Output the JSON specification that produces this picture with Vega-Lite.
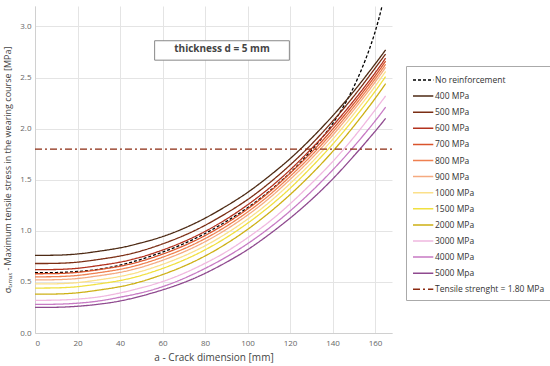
{
  "$schema": "https://vega.github.io/schema/vega-lite/v6.json",
  "autosize": {"type": "none"},
  "padding": {"left": 35, "top": 6, "right": 158, "bottom": 33},
  "width": 357,
  "height": 327,
  "background": "white",
  "config": {
    "font": "Open Sans",
    "view": {"stroke": null},
    "axis": {"gridColor": "#e4e4e4", "domainColor": "#d0d0d0", "ticks": false, "labelColor": "#666", "labelFontSize": 8, "titleColor": "#444", "titleFontWeight": "normal"},
    "legend": {
      "orient": "none", "legendX": 371, "legendY": 60, "fillColor": "white", "strokeColor": "#aaa", "padding": 6,
      "labelFontSize": 8.5, "labelColor": "#333", "symbolType": "M-1,0H1.9", "symbolSize": 196, "symbolStrokeWidth": 1.5,
      "rowPadding": 3.1, "labelOffset": 7, "title": null, "labelLimit": 200
    }
  },
  "data": {"values": [
    {"s":"No reinforcement","a":0,"v":0.59},{"s":"No reinforcement","a":10,"v":0.59},{"s":"No reinforcement","a":20,"v":0.6},{"s":"No reinforcement","a":30,"v":0.62},{"s":"No reinforcement","a":40,"v":0.66},{"s":"No reinforcement","a":50,"v":0.72},{"s":"No reinforcement","a":60,"v":0.79},{"s":"No reinforcement","a":70,"v":0.87},{"s":"No reinforcement","a":80,"v":0.97},{"s":"No reinforcement","a":90,"v":1.09},{"s":"No reinforcement","a":100,"v":1.22},{"s":"No reinforcement","a":110,"v":1.38},{"s":"No reinforcement","a":120,"v":1.56},{"s":"No reinforcement","a":130,"v":1.78},{"s":"No reinforcement","a":140,"v":2.03},{"s":"No reinforcement","a":150,"v":2.38},{"s":"No reinforcement","a":160,"v":2.9},{"s":"No reinforcement","a":165,"v":3.35},
    {"s":"400 MPa","a":0,"v":0.76},{"s":"400 MPa","a":10,"v":0.76},{"s":"400 MPa","a":20,"v":0.77},{"s":"400 MPa","a":30,"v":0.8},{"s":"400 MPa","a":40,"v":0.83},{"s":"400 MPa","a":50,"v":0.88},{"s":"400 MPa","a":60,"v":0.94},{"s":"400 MPa","a":70,"v":1.02},{"s":"400 MPa","a":80,"v":1.12},{"s":"400 MPa","a":90,"v":1.24},{"s":"400 MPa","a":100,"v":1.37},{"s":"400 MPa","a":110,"v":1.53},{"s":"400 MPa","a":120,"v":1.7},{"s":"400 MPa","a":130,"v":1.9},{"s":"400 MPa","a":140,"v":2.12},{"s":"400 MPa","a":150,"v":2.36},{"s":"400 MPa","a":160,"v":2.63},{"s":"400 MPa","a":165,"v":2.77},
    {"s":"500 MPa","a":0,"v":0.68},{"s":"500 MPa","a":10,"v":0.68},{"s":"500 MPa","a":20,"v":0.69},{"s":"500 MPa","a":30,"v":0.72},{"s":"500 MPa","a":40,"v":0.75},{"s":"500 MPa","a":50,"v":0.8},{"s":"500 MPa","a":60,"v":0.87},{"s":"500 MPa","a":70,"v":0.95},{"s":"500 MPa","a":80,"v":1.05},{"s":"500 MPa","a":90,"v":1.17},{"s":"500 MPa","a":100,"v":1.3},{"s":"500 MPa","a":110,"v":1.46},{"s":"500 MPa","a":120,"v":1.64},{"s":"500 MPa","a":130,"v":1.84},{"s":"500 MPa","a":140,"v":2.07},{"s":"500 MPa","a":150,"v":2.31},{"s":"500 MPa","a":160,"v":2.59},{"s":"500 MPa","a":165,"v":2.73},
    {"s":"600 MPa","a":0,"v":0.62},{"s":"600 MPa","a":10,"v":0.62},{"s":"600 MPa","a":20,"v":0.63},{"s":"600 MPa","a":30,"v":0.66},{"s":"600 MPa","a":40,"v":0.69},{"s":"600 MPa","a":50,"v":0.74},{"s":"600 MPa","a":60,"v":0.81},{"s":"600 MPa","a":70,"v":0.89},{"s":"600 MPa","a":80,"v":0.99},{"s":"600 MPa","a":90,"v":1.11},{"s":"600 MPa","a":100,"v":1.25},{"s":"600 MPa","a":110,"v":1.41},{"s":"600 MPa","a":120,"v":1.59},{"s":"600 MPa","a":130,"v":1.8},{"s":"600 MPa","a":140,"v":2.02},{"s":"600 MPa","a":150,"v":2.27},{"s":"600 MPa","a":160,"v":2.54},{"s":"600 MPa","a":165,"v":2.69},
    {"s":"700 MPa","a":0,"v":0.58},{"s":"700 MPa","a":10,"v":0.58},{"s":"700 MPa","a":20,"v":0.59},{"s":"700 MPa","a":30,"v":0.62},{"s":"700 MPa","a":40,"v":0.65},{"s":"700 MPa","a":50,"v":0.7},{"s":"700 MPa","a":60,"v":0.77},{"s":"700 MPa","a":70,"v":0.85},{"s":"700 MPa","a":80,"v":0.95},{"s":"700 MPa","a":90,"v":1.07},{"s":"700 MPa","a":100,"v":1.21},{"s":"700 MPa","a":110,"v":1.37},{"s":"700 MPa","a":120,"v":1.56},{"s":"700 MPa","a":130,"v":1.76},{"s":"700 MPa","a":140,"v":1.99},{"s":"700 MPa","a":150,"v":2.24},{"s":"700 MPa","a":160,"v":2.51},{"s":"700 MPa","a":165,"v":2.66},
    {"s":"800 MPa","a":0,"v":0.55},{"s":"800 MPa","a":10,"v":0.55},{"s":"800 MPa","a":20,"v":0.56},{"s":"800 MPa","a":30,"v":0.59},{"s":"800 MPa","a":40,"v":0.62},{"s":"800 MPa","a":50,"v":0.67},{"s":"800 MPa","a":60,"v":0.74},{"s":"800 MPa","a":70,"v":0.82},{"s":"800 MPa","a":80,"v":0.92},{"s":"800 MPa","a":90,"v":1.04},{"s":"800 MPa","a":100,"v":1.18},{"s":"800 MPa","a":110,"v":1.34},{"s":"800 MPa","a":120,"v":1.53},{"s":"800 MPa","a":130,"v":1.73},{"s":"800 MPa","a":140,"v":1.96},{"s":"800 MPa","a":150,"v":2.21},{"s":"800 MPa","a":160,"v":2.48},{"s":"800 MPa","a":165,"v":2.63},
    {"s":"900 MPa","a":0,"v":0.52},{"s":"900 MPa","a":10,"v":0.52},{"s":"900 MPa","a":20,"v":0.53},{"s":"900 MPa","a":30,"v":0.56},{"s":"900 MPa","a":40,"v":0.59},{"s":"900 MPa","a":50,"v":0.64},{"s":"900 MPa","a":60,"v":0.71},{"s":"900 MPa","a":70,"v":0.79},{"s":"900 MPa","a":80,"v":0.89},{"s":"900 MPa","a":90,"v":1.01},{"s":"900 MPa","a":100,"v":1.15},{"s":"900 MPa","a":110,"v":1.31},{"s":"900 MPa","a":120,"v":1.5},{"s":"900 MPa","a":130,"v":1.7},{"s":"900 MPa","a":140,"v":1.93},{"s":"900 MPa","a":150,"v":2.18},{"s":"900 MPa","a":160,"v":2.45},{"s":"900 MPa","a":165,"v":2.6},
    {"s":"1000 MPa","a":0,"v":0.48},{"s":"1000 MPa","a":10,"v":0.48},{"s":"1000 MPa","a":20,"v":0.49},{"s":"1000 MPa","a":30,"v":0.52},{"s":"1000 MPa","a":40,"v":0.55},{"s":"1000 MPa","a":50,"v":0.6},{"s":"1000 MPa","a":60,"v":0.67},{"s":"1000 MPa","a":70,"v":0.75},{"s":"1000 MPa","a":80,"v":0.85},{"s":"1000 MPa","a":90,"v":0.97},{"s":"1000 MPa","a":100,"v":1.11},{"s":"1000 MPa","a":110,"v":1.27},{"s":"1000 MPa","a":120,"v":1.46},{"s":"1000 MPa","a":130,"v":1.66},{"s":"1000 MPa","a":140,"v":1.89},{"s":"1000 MPa","a":150,"v":2.14},{"s":"1000 MPa","a":160,"v":2.41},{"s":"1000 MPa","a":165,"v":2.56},
    {"s":"1500 MPa","a":0,"v":0.44},{"s":"1500 MPa","a":10,"v":0.44},{"s":"1500 MPa","a":20,"v":0.45},{"s":"1500 MPa","a":30,"v":0.48},{"s":"1500 MPa","a":40,"v":0.51},{"s":"1500 MPa","a":50,"v":0.56},{"s":"1500 MPa","a":60,"v":0.63},{"s":"1500 MPa","a":70,"v":0.71},{"s":"1500 MPa","a":80,"v":0.81},{"s":"1500 MPa","a":90,"v":0.93},{"s":"1500 MPa","a":100,"v":1.07},{"s":"1500 MPa","a":110,"v":1.23},{"s":"1500 MPa","a":120,"v":1.41},{"s":"1500 MPa","a":130,"v":1.62},{"s":"1500 MPa","a":140,"v":1.84},{"s":"1500 MPa","a":150,"v":2.09},{"s":"1500 MPa","a":160,"v":2.36},{"s":"1500 MPa","a":165,"v":2.51},
    {"s":"2000 MPa","a":0,"v":0.38},{"s":"2000 MPa","a":10,"v":0.38},{"s":"2000 MPa","a":20,"v":0.39},{"s":"2000 MPa","a":30,"v":0.42},{"s":"2000 MPa","a":40,"v":0.45},{"s":"2000 MPa","a":50,"v":0.5},{"s":"2000 MPa","a":60,"v":0.57},{"s":"2000 MPa","a":70,"v":0.65},{"s":"2000 MPa","a":80,"v":0.75},{"s":"2000 MPa","a":90,"v":0.87},{"s":"2000 MPa","a":100,"v":1.01},{"s":"2000 MPa","a":110,"v":1.17},{"s":"2000 MPa","a":120,"v":1.35},{"s":"2000 MPa","a":130,"v":1.55},{"s":"2000 MPa","a":140,"v":1.77},{"s":"2000 MPa","a":150,"v":2.02},{"s":"2000 MPa","a":160,"v":2.29},{"s":"2000 MPa","a":165,"v":2.44},
    {"s":"3000 MPa","a":0,"v":0.32},{"s":"3000 MPa","a":10,"v":0.32},{"s":"3000 MPa","a":20,"v":0.33},{"s":"3000 MPa","a":30,"v":0.35},{"s":"3000 MPa","a":40,"v":0.39},{"s":"3000 MPa","a":50,"v":0.44},{"s":"3000 MPa","a":60,"v":0.5},{"s":"3000 MPa","a":70,"v":0.58},{"s":"3000 MPa","a":80,"v":0.68},{"s":"3000 MPa","a":90,"v":0.79},{"s":"3000 MPa","a":100,"v":0.93},{"s":"3000 MPa","a":110,"v":1.08},{"s":"3000 MPa","a":120,"v":1.26},{"s":"3000 MPa","a":130,"v":1.46},{"s":"3000 MPa","a":140,"v":1.67},{"s":"3000 MPa","a":150,"v":1.91},{"s":"3000 MPa","a":160,"v":2.18},{"s":"3000 MPa","a":165,"v":2.32},
    {"s":"4000 MPa","a":0,"v":0.28},{"s":"4000 MPa","a":10,"v":0.28},{"s":"4000 MPa","a":20,"v":0.29},{"s":"4000 MPa","a":30,"v":0.31},{"s":"4000 MPa","a":40,"v":0.35},{"s":"4000 MPa","a":50,"v":0.39},{"s":"4000 MPa","a":60,"v":0.45},{"s":"4000 MPa","a":70,"v":0.53},{"s":"4000 MPa","a":80,"v":0.63},{"s":"4000 MPa","a":90,"v":0.74},{"s":"4000 MPa","a":100,"v":0.87},{"s":"4000 MPa","a":110,"v":1.02},{"s":"4000 MPa","a":120,"v":1.19},{"s":"4000 MPa","a":130,"v":1.38},{"s":"4000 MPa","a":140,"v":1.59},{"s":"4000 MPa","a":150,"v":1.82},{"s":"4000 MPa","a":160,"v":2.07},{"s":"4000 MPa","a":165,"v":2.21},
    {"s":"5000 Mpa","a":0,"v":0.25},{"s":"5000 Mpa","a":10,"v":0.25},{"s":"5000 Mpa","a":20,"v":0.26},{"s":"5000 Mpa","a":30,"v":0.28},{"s":"5000 Mpa","a":40,"v":0.31},{"s":"5000 Mpa","a":50,"v":0.36},{"s":"5000 Mpa","a":60,"v":0.42},{"s":"5000 Mpa","a":70,"v":0.49},{"s":"5000 Mpa","a":80,"v":0.58},{"s":"5000 Mpa","a":90,"v":0.69},{"s":"5000 Mpa","a":100,"v":0.81},{"s":"5000 Mpa","a":110,"v":0.96},{"s":"5000 Mpa","a":120,"v":1.12},{"s":"5000 Mpa","a":130,"v":1.3},{"s":"5000 Mpa","a":140,"v":1.5},{"s":"5000 Mpa","a":150,"v":1.73},{"s":"5000 Mpa","a":160,"v":1.97},{"s":"5000 Mpa","a":165,"v":2.1},
    {"s":"Tensile strenght = 1.80 MPa","a":0,"v":1.8},{"s":"Tensile strenght = 1.80 MPa","a":168,"v":1.8}
  ]},
  "layer": [
    {
      "mark": {"type": "line", "interpolate": "basis", "strokeWidth": 1.3, "clip": true},
      "encoding": {
        "x": {"field": "a", "type": "quantitative", "scale": {"domain": [0, 168], "nice": false},
              "axis": {"values": [0,20,40,60,80,100,120,140,160], "title": "a - Crack dimension [mm]", "titleFontSize": 10, "labelPadding": 6, "titlePadding": 5, "grid": true}},
        "y": {"field": "v", "type": "quantitative", "scale": {"domain": [0, 3.2], "nice": false},
              "axis": {"values": [0,0.5,1,1.5,2,2.5,3], "format": ".1f", "title": "σₜ,ₘₐₓ - Maximum tensile stress in the wearing course [MPa]", "titleFontSize": 9, "labelPadding": 4, "titlePadding": 7, "grid": true}},
        "color": {"field": "s", "type": "nominal",
          "scale": {
            "domain": ["No reinforcement","400 MPa","500 MPa","600 MPa","700 MPa","800 MPa","900 MPa","1000 MPa","1500 MPa","2000 MPa","3000 MPa","4000 MPa","5000 Mpa","Tensile strenght = 1.80 MPa"],
            "range": ["#000000","#4d2a14","#7b2e14","#b3321e","#d9542c","#ef8050","#f5aa80","#fbe08a","#f0e040","#cdb015","#f0b8e0","#c77ac4","#8f4a8f","#8b2a10"]}},
        "strokeDash": {"field": "s", "type": "nominal",
          "scale": {
            "domain": ["No reinforcement","400 MPa","500 MPa","600 MPa","700 MPa","800 MPa","900 MPa","1000 MPa","1500 MPa","2000 MPa","3000 MPa","4000 MPa","5000 Mpa","Tensile strenght = 1.80 MPa"],
            "range": [[3,2],[1,0],[1,0],[1,0],[1,0],[1,0],[1,0],[1,0],[1,0],[1,0],[1,0],[1,0],[1,0],[7,3,2,3]]}}
      }
    },
    {
      "data": {"values": [{}]},
      "mark": {"type": "rect", "fill": "white", "stroke": "#888", "strokeWidth": 1},
      "encoding": {"x": {"datum": 56.3}, "x2": {"datum": 119.7}, "y": {"datum": 2.86}, "y2": {"datum": 2.67}}
    },
    {
      "data": {"values": [{}]},
      "mark": {"type": "text", "text": "thickness d = 5 mm", "fontWeight": "bold", "fontSize": 10, "color": "#444", "align": "center", "baseline": "middle"},
      "encoding": {"x": {"datum": 88}, "y": {"datum": 2.776}}
    }
  ]
}
